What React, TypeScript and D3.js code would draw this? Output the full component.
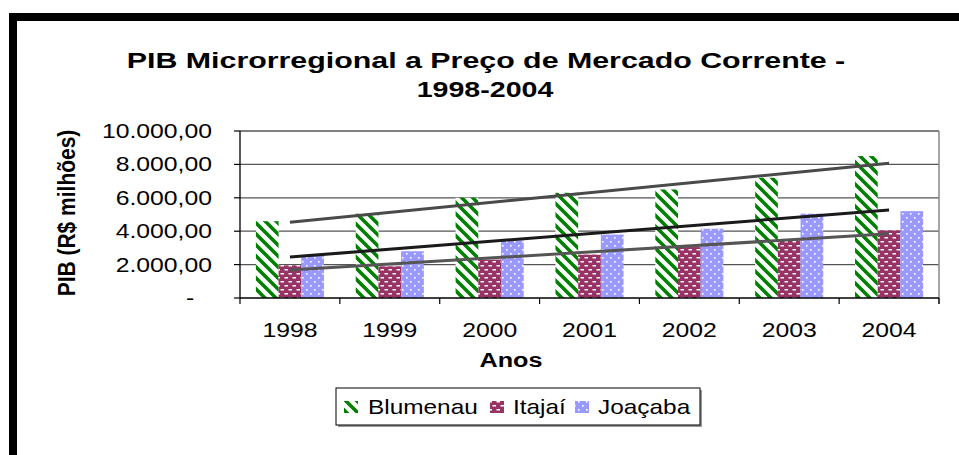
import { useEffect, useRef } from "react";
import * as d3 from "d3";

// dados (R$ milhões)
const years = ["1998", "1999", "2000", "2001", "2002", "2003", "2004"];
const seriesNames = ["Blumenau", "Itajaí", "Joaçaba"];
const blumenau = [4600, 5050, 6000, 6300, 6500, 7200, 8500];
const itajai = [1950, 1900, 2300, 2600, 3050, 3450, 4050];
const joacaba = [2550, 2800, 3450, 3800, 4150, 5050, 5200];
const yTicks = [0, 2000, 4000, 6000, 8000, 10000];
const titleLines = ["PIB Microrregional a Preço de Mercado Corrente -", "1998-2004"];

const App: React.FC = () => {
  const ref = useRef<SVGSVGElement>(null);

  useEffect(() => {
    const svg = d3.select(ref.current);
    svg.selectAll("*").remove();
    const font = "'Liberation Sans', Arial, sans-serif";

    const values: Record<string, number[]> = {
      Blumenau: blumenau,
      "Itajaí": itajai,
      "Joaçaba": joacaba,
    };
    const fills: Record<string, string> = {
      Blumenau: "url(#pBlu)",
      "Itajaí": "url(#pIta)",
      "Joaçaba": "url(#pJoa)",
    };
    const trendColors: Record<string, string> = {
      Blumenau: "#4a4a4a",
      "Itajaí": "#555555",
      "Joaçaba": "#1a1a1a",
    };

    // padrões de preenchimento
    const defs = svg.append("defs");
    const pBlu = defs.append("pattern").attr("id", "pBlu")
      .attr("patternUnits", "userSpaceOnUse").attr("width", 11).attr("height", 11);
    pBlu.append("rect").attr("width", 11).attr("height", 11).attr("fill", "#fff");
    pBlu.append("path")
      .attr("d", "M-11,0 L11,22 M-5.5,-5.5 L16.5,16.5 M0,-11 L22,11")
      .attr("stroke", "#008000").attr("stroke-width", 3.6);

    const pIta = defs.append("pattern").attr("id", "pIta")
      .attr("patternUnits", "userSpaceOnUse").attr("width", 8).attr("height", 8);
    pIta.append("rect").attr("width", 8).attr("height", 8).attr("fill", "#993366");
    [[0.5, 1], [4.5, 5], [-3.5, 5]].forEach(([x, y]) =>
      pIta.append("rect").attr("x", x).attr("y", y).attr("width", 3.5).attr("height", 1.5).attr("fill", "#fff"));

    const pJoa = defs.append("pattern").attr("id", "pJoa")
      .attr("patternUnits", "userSpaceOnUse").attr("width", 8).attr("height", 8);
    pJoa.append("rect").attr("width", 8).attr("height", 8).attr("fill", "#9999ff");
    [[2, 1], [6, 5]].forEach(([x, y]) =>
      pJoa.append("rect").attr("x", x).attr("y", y).attr("width", 1.6).attr("height", 1.6).attr("fill", "#fff"));

    // moldura preta
    svg.append("rect").attr("x", 9).attr("y", 13).attr("width", 960).attr("height", 450).attr("fill", "#000");
    svg.append("rect").attr("x", 17).attr("y", 21).attr("width", 950).attr("height", 440).attr("fill", "#fff");

    const text = (x: number, y: number, s: string, size: number, sx: number,
      anchor = "middle", weight = "normal", rot = 0) => {
      const tr = rot ? `translate(${x},${y}) rotate(${rot}) scale(1,${sx})` : `translate(${x},${y}) scale(${sx},1)`;
      svg.append("text").attr("transform", tr)
        .attr("text-anchor", anchor).attr("font-family", font)
        .attr("font-size", size).attr("font-weight", weight).attr("fill", "#000")
        .text(s);
    };

    // título
    text(486, 68, titleLines[0], 22, 1.38, "middle", "bold");
    text(485, 97, titleLines[1], 22, 1.3, "middle", "bold");

    const x0 = d3.scaleBand().domain(years).range([240, 939]);
    const x1 = d3.scaleBand().domain(seriesNames).range([0, x0.bandwidth()]).paddingOuter(0.7);
    const y = d3.scaleLinear().domain([0, 10000]).range([298, 131]);

    // linhas de grade
    svg.append("g").selectAll("line").data(yTicks.filter(d => d > 0)).join("line")
      .attr("x1", 240).attr("x2", 939).attr("y1", d => y(d)).attr("y2", d => y(d))
      .attr("stroke", "#555").attr("stroke-width", 1.3);
    svg.append("line").attr("x1", 939).attr("x2", 939).attr("y1", y(10000)).attr("y2", 304)
      .attr("stroke", "#888").attr("stroke-width", 1.5);

    // barras
    seriesNames.forEach(name => {
      svg.append("g").selectAll("rect").data(values[name]).join("rect")
        .attr("x", (_, i) => (x0(years[i]) as number) + (x1(name) as number))
        .attr("y", d => y(d))
        .attr("width", x1.bandwidth())
        .attr("height", d => y(0) - y(d))
        .attr("fill", fills[name]);
    });

    // eixos
    svg.append("line").attr("x1", 240).attr("x2", 240).attr("y1", y(10000)).attr("y2", y(0))
      .attr("stroke", "#000").attr("stroke-width", 1.3);
    svg.append("line").attr("x1", 240).attr("x2", 939).attr("y1", y(0)).attr("y2", y(0))
      .attr("stroke", "#000").attr("stroke-width", 1.3);
    svg.append("g").selectAll("line").data(yTicks).join("line")
      .attr("x1", 234).attr("x2", 240).attr("y1", d => y(d)).attr("y2", d => y(d))
      .attr("stroke", "#000").attr("stroke-width", 1.2);
    svg.append("g").selectAll("line").data(years.concat(["end"])).join("line")
      .attr("x1", (d, i) => i < years.length ? (x0(d) as number) : 939)
      .attr("x2", (d, i) => i < years.length ? (x0(d) as number) : 939)
      .attr("y1", y(0)).attr("y2", 304)
      .attr("stroke", "#000").attr("stroke-width", 1.2);

    // linhas de tendência (regressão linear)
    seriesNames.forEach(name => {
      const v = values[name];
      const n = v.length;
      const mx = (n - 1) / 2;
      const my = d3.mean(v) as number;
      const slope = d3.sum(v, (d, i) => (i - mx) * (d - my)) / d3.sum(v, (_, i) => (i - mx) ** 2);
      const pts = years.map((yr, i) => [(x0(yr) as number) + x0.bandwidth() / 2, y(my + slope * (i - mx))] as [number, number]);
      svg.append("path").attr("d", d3.line()([pts[0], pts[n - 1]]) as string)
        .attr("fill", "none").attr("stroke", trendColors[name]).attr("stroke-width", 3);
    });

    // rótulos
    const fmt = d3.formatLocale({ decimal: ",", thousands: ".", grouping: [3], currency: ["R$", ""] }).format(",.2f");
    yTicks.forEach(t => {
      if (t === 0) text(190, y(t) + 7, "-", 19.5, 1.27, "middle");
      else text(212, y(t) + 7, fmt(t), 19.5, 1.27, "end");
    });
    years.forEach(yr => text((x0(yr) as number) + x0.bandwidth() / 2, 337, yr, 19.5, 1.27));
    text(511, 367, "Anos", 21, 1.2, "middle", "bold");
    text(75, 213, "PIB (R$ milhões)", 21, 1.15, "middle", "bold", -90);

    // legenda
    svg.append("rect").attr("x", 338).attr("y", 390).attr("width", 364).attr("height", 37).attr("fill", "#999");
    svg.append("rect").attr("x", 336).attr("y", 388).attr("width", 364).attr("height", 37)
      .attr("fill", "#fff").attr("stroke", "#000").attr("stroke-width", 1);
    const legX = [344, 490, 575];
    const legTx = [368, 513, 598];
    seriesNames.forEach((name, i) => {
      svg.append("rect").attr("x", legX[i]).attr("y", 401).attr("width", 14).attr("height", 12).attr("fill", fills[name]);
      text(legTx[i], 414, name, 20, 1.22, "start");
    });
  }, []);

  return <svg ref={ref} width={959} height={455} style={{ position: "absolute", left: 0, top: 0 }} />;
};

export default App;
